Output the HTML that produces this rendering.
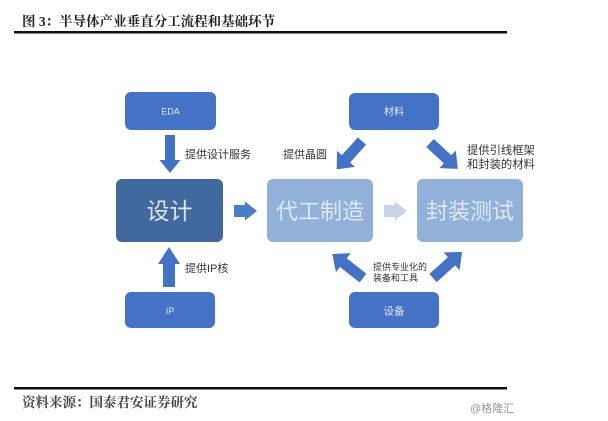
<!DOCTYPE html>
<html><head><meta charset="utf-8">
<style>
html,body{margin:0;padding:0;background:#fff;width:608px;height:421px;overflow:hidden}
svg{display:block}
.sans{font-family:"Liberation Sans","Noto Sans CJK SC",sans-serif}
.serif{font-family:"Liberation Serif","Noto Serif CJK SC",serif}
</style></head>
<body>
<svg width="608" height="421" viewBox="0 0 608 421" xmlns="http://www.w3.org/2000/svg">
<rect width="608" height="421" fill="#fff"/>
<!-- title -->
<text x="22" y="26" class="serif" font-size="13.5" font-weight="bold" fill="#222">图 3：半导体产业垂直分工流程和基础环节</text>
<rect x="14" y="31" width="493" height="2.5" fill="#111"/>

<!-- boxes -->
<rect x="125" y="92" width="91" height="38" rx="6" fill="#4472c4"/>
<text x="170.5" y="114.5" class="sans" font-size="9" fill="#dfe7f5" text-anchor="middle">EDA</text>

<rect x="349" y="93" width="90" height="37" rx="6" fill="#4472c4"/>
<text x="394" y="115" class="sans" font-size="10" fill="#dfe7f5" text-anchor="middle">材料</text>

<rect x="125" y="292" width="90" height="36" rx="6" fill="#4472c4"/>
<text x="170" y="314" class="sans" font-size="9" fill="#dfe7f5" text-anchor="middle">IP</text>

<rect x="349" y="292" width="90" height="36" rx="6" fill="#4472c4"/>
<text x="394" y="314.5" class="sans" font-size="10.5" fill="#dfe7f5" text-anchor="middle">设备</text>

<rect x="116" y="179" width="107" height="63" rx="6" fill="#41699f"/>
<text x="169.5" y="219" class="sans" font-size="23" fill="#dde5f0" text-anchor="middle">设计</text>

<rect x="267" y="179" width="106" height="63" rx="6" fill="#92b1d9"/>
<text x="320" y="219" class="sans" font-size="22" fill="#dfe8f4" text-anchor="middle">代工制造</text>

<rect x="417" y="179" width="106" height="63" rx="6" fill="#92b1d9"/>
<text x="470" y="219" class="sans" font-size="22" fill="#dfe8f4" text-anchor="middle">封装测试</text>

<!-- arrows -->
<!-- EDA down -->
<g transform="translate(170,135) rotate(90)"><polygon points="0,-5 25,-5 25,-10.5 38,0 25,10.5 25,5 0,5" fill="#4472c4"/></g>
<!-- IP up -->
<g transform="translate(169,287) rotate(-90)"><polygon points="0,-6 23,-6 23,-11 40,0 23,11 23,6 0,6" fill="#4472c4"/></g>
<!-- design -> foundry -->
<g transform="translate(234,211)"><polygon points="0,-6 11,-6 11,-9.5 23,0 11,9.5 11,6 0,6" fill="#4a7ec2"/></g>
<!-- foundry -> packaging -->
<g transform="translate(384,211)"><polygon points="0,-6 11,-6 11,-9.5 23,0 11,9.5 11,6 0,6" fill="#c6d4e9"/></g>
<!-- material diagonals -->
<g transform="translate(362,141) rotate(131.8)"><polygon points="0,-5.5 24,-5.5 24,-12 38,0 24,12 24,5.5 0,5.5" fill="#4472c4"/></g>
<g transform="translate(430,143) rotate(42.9)"><polygon points="0,-5.5 24,-5.5 24,-12 38,0 24,12 24,5.5 0,5.5" fill="#4472c4"/></g>
<!-- equipment diagonals -->
<g transform="translate(363,278) rotate(-142)"><polygon points="0,-5.5 25,-5.5 25,-12 39,0 25,12 25,5.5 0,5.5" fill="#4472c4"/></g>
<g transform="translate(433,278) rotate(-41.9)"><polygon points="0,-5.5 25,-5.5 25,-12 39,0 25,12 25,5.5 0,5.5" fill="#4472c4"/></g>

<!-- labels -->
<text x="185" y="158" class="sans" font-size="11" fill="#333">提供设计服务</text>
<text x="283" y="158" class="sans" font-size="11" fill="#333">提供晶圆</text>
<text x="467" y="154" class="sans" font-size="11.3" fill="#333">提供引线框架</text>
<text x="467" y="168" class="sans" font-size="11.3" fill="#333">和封装的材料</text>
<text x="185" y="272" class="sans" font-size="11" fill="#333">提供IP核</text>
<text x="373" y="270" class="sans" font-size="9" fill="#333">提供专业化的</text>
<text x="373" y="281" class="sans" font-size="9" fill="#333">装备和工具</text>

<!-- bottom -->
<rect x="14" y="387" width="493" height="2.5" fill="#111"/>
<text x="22" y="407" class="serif" font-size="13.5" font-weight="bold" fill="#444">资料来源：国泰君安证券研究</text>
<text x="470" y="412" class="sans" font-size="11" fill="#999">@格隆汇</text>
</svg>
</body></html>
